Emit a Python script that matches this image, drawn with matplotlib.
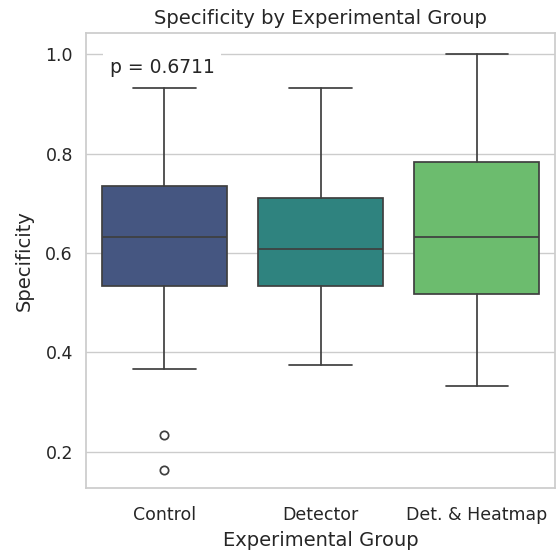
import numpy as np
import matplotlib
matplotlib.use("Agg")
import matplotlib.pyplot as plt
import seaborn as sns

groups = ["Control", "Detector", "Det. & Heatmap"]
# box summary per group (lower whisker, Q1, median, Q3, upper whisker)
whislo = [0.367, 0.375, 0.332]
q1 = [0.533, 0.533, 0.517]
med = [0.633, 0.607, 0.633]
q3 = [0.734, 0.710, 0.783]
whishi = [0.932, 0.932, 1.0]
fliers = [[0.233, 0.164], [], []]
p_value = 0.6711

sns.set_theme(style="whitegrid")
colors = [sns.desaturate(c, 0.75) for c in sns.color_palette("viridis", 3)]
line_col = "#3f3f3f"

stats = []
for i, g in enumerate(groups):
    stats.append(dict(label=g, whislo=whislo[i], q1=q1[i], med=med[i],
                      q3=q3[i], whishi=whishi[i], fliers=fliers[i]))

fig = plt.figure(figsize=(5.59, 5.54), dpi=100)
ax = fig.add_axes([0.154, 0.119, 0.839, 0.821])

bp = ax.bxp(stats, positions=range(3), widths=0.8, patch_artist=True,
            showfliers=True,
            boxprops=dict(edgecolor=line_col, linewidth=1.25),
            medianprops=dict(color=line_col, linewidth=1.25),
            whiskerprops=dict(color=line_col, linewidth=1.25),
            capprops=dict(color=line_col, linewidth=1.25),
            capwidths=0.4,
            flierprops=dict(marker="o", markerfacecolor="none",
                            markeredgecolor=line_col, markersize=6,
                            markeredgewidth=1.25))
for patch, c in zip(bp["boxes"], colors):
    patch.set_facecolor(c)

ax.set_xlim(-0.5, 2.5)
ax.set_ylim(0.127, 1.042)
ax.set_yticks([0.2, 0.4, 0.6, 0.8, 1.0])
ax.set_xticks(range(3))
ax.set_xticklabels(groups)
ax.tick_params(labelsize=12.5)
ax.tick_params(axis="x", pad=7)
ax.xaxis.grid(False)
ax.set_axisbelow(True)

ax.set_title("Specificity by Experimental Group", fontsize=14, pad=7)
ax.set_xlabel("Experimental Group", fontsize=14, labelpad=5)
ax.set_ylabel("Specificity", fontsize=14, labelpad=8)

ax.text(0.05, 0.945, f"p = {p_value:.4f}", transform=ax.transAxes,
        va="top", ha="left", fontsize=13.5,
        bbox=dict(facecolor="white", edgecolor="none", pad=5))

fig.savefig("out.png", dpi=100)
